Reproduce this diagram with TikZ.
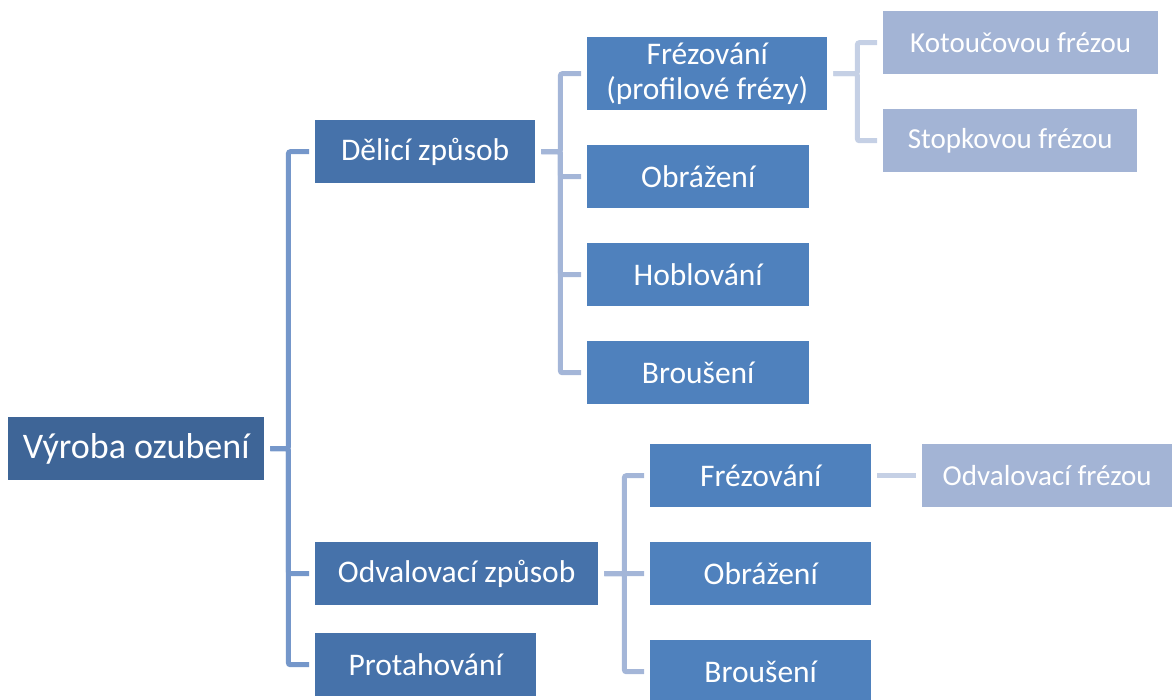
\documentclass[tikz,border=0pt]{standalone}
\usepackage{fontspec}
\setmainfont{Carlito}
\usepackage{xcolor}
\usetikzlibrary{positioning,calc}
\definecolor{rootblue}{HTML}{3E6597}
\definecolor{methodblue}{HTML}{4672AA}
\definecolor{opblue}{HTML}{4F81BD}
\definecolor{toolblue}{HTML}{A3B4D5}
\definecolor{linkroot}{HTML}{7597CA}
\definecolor{linkmethod}{HTML}{A4B6D8}
\definecolor{linkop}{HTML}{C5D0E5}

\tikzset{
    box/.style={rectangle, anchor=north west, inner sep=0pt, text=white, align=center, minimum height=63pt},
    rootbox/.style={box, fill=rootblue, font=\fontsize{36}{40}\selectfont},
    methodbox/.style={box, fill=methodblue, font=\fontsize{31.5}{35}\selectfont},
    opbox/.style={box, fill=opblue, font=\fontsize{31.5}{35}\selectfont},
    toolbox/.style={box, fill=toolblue, font=\fontsize{29}{33}\selectfont},
    link/.style={line width=5pt, shorten <=6pt, shorten >=6pt, rounded corners=2pt}
}

\begin{document}
\begin{tikzpicture}[x=1pt, y=-1pt]
    \useasboundingbox (0,0) rectangle (1172,699);

    % root
    \node [rootbox, minimum width=256pt] (root) at (8,417) {Výroba ozubení};

    % methods
    \node [methodbox, minimum width=220pt] (delici) at (315,120) {Dělicí způsob};
    \node [methodbox, minimum width=283pt] (odval) at (315,542) {Odvalovací způsob};
    \node [methodbox, minimum width=221pt] (protah) at (315,633) {Protahování};

    % operations of the dividing method
    \node [opbox, minimum width=240pt, minimum height=73pt] (frezprof) at (587,37) {Frézování\\(profilové frézy)};
    \node [opbox, minimum width=222pt] (obrazA) at (587,145) {Obrážení};
    \node [opbox, minimum width=222pt] (hobl) at (587,243) {Hoblování};
    \node [opbox, minimum width=222pt] (brousA) at (587,341) {Broušení};

    % operations of the generating method
    \node [opbox, minimum width=221pt] (frezB) at (650,444) {Frézování};
    \node [opbox, minimum width=221pt] (obrazB) at (650,542) {Obrážení};
    \node [opbox, minimum width=221pt] (brousB) at (650,640) {Broušení};

    % tools
    \node [toolbox, minimum width=275pt] (kotouc) at (883,11) {Kotoučovou frézou};
    \node [toolbox, minimum width=254pt] (stopk) at (883,109) {Stopkovou frézou};
    \node [toolbox, minimum width=250pt] (odvfrez) at (922,444) {Odvalovací frézou};

    % connectors
    \foreach \child in {delici, odval, protah}
        \draw [link, linkroot] (root.east) -- ++(24,0) |- (\child.west);
    \foreach \child in {frezprof, obrazA, hobl, brousA}
        \draw [link, linkmethod] (delici.east) -- ++(25,0) |- (\child.west);
    \foreach \child in {frezB, obrazB, brousB}
        \draw [link, linkmethod] (odval.east) -- ++(26,0) |- (\child.west);
    \foreach \child in {kotouc, stopk}
        \draw [link, linkop] (frezprof.east) -- ++(30,0) |- (\child.west);
    \draw [link, linkop] (frezB) -- (odvfrez);
\end{tikzpicture}
\end{document}
